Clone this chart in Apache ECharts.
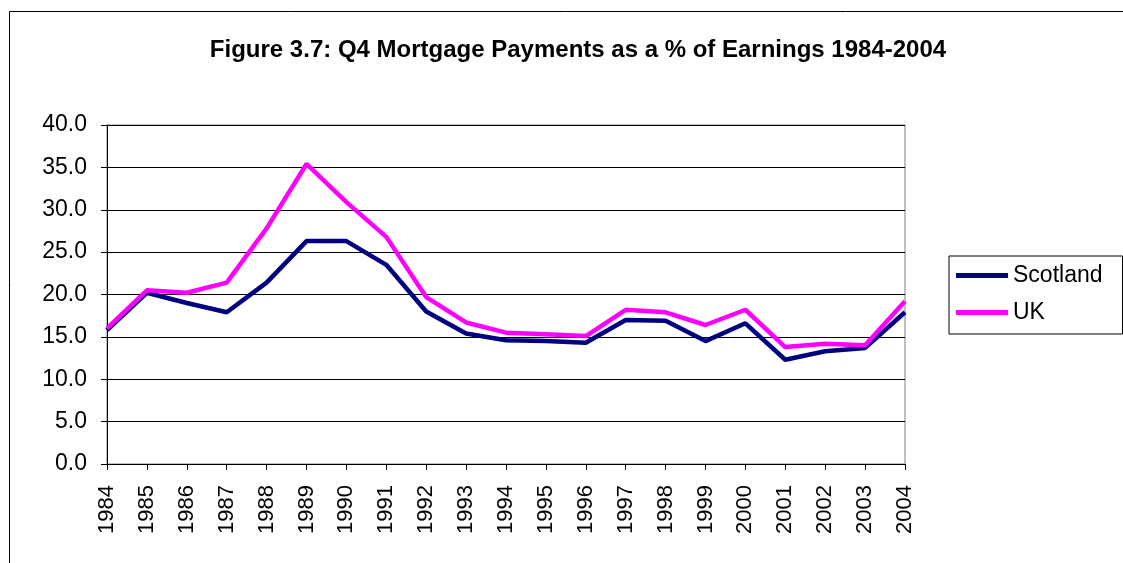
<!DOCTYPE html>
<html>
<head>
<meta charset="utf-8">
<script src="https://cdn.jsdelivr.net/npm/echarts@6/dist/echarts.min.js"></script>
<style>
  html, body { margin: 0; padding: 0; background: #fff; }
  #chart { width: 1123px; height: 563px; }
</style>
</head>
<body>
<div id="chart"></div>
<script>
const years = ['1984','1985','1986','1987','1988','1989','1990','1991','1992','1993','1994',
               '1995','1996','1997','1998','1999','2000','2001','2002','2003','2004'];
const scotland = [15.8, 20.2, 19.0, 17.9, 21.4, 26.3, 26.3, 23.5, 18.0, 15.4, 14.6,
                  14.5, 14.3, 17.0, 16.9, 14.5, 16.6, 12.3, 13.3, 13.7, 17.9];
const uk = [16.0, 20.5, 20.2, 21.4, 27.8, 35.4, 30.9, 26.8, 19.7, 16.7, 15.5,
            15.3, 15.1, 18.2, 17.9, 16.4, 18.2, 13.8, 14.2, 14.0, 19.2];

const chart = echarts.init(document.getElementById('chart'));
const font = 'Arial, "Liberation Sans", sans-serif';

chart.setOption({
  animation: false,
  textStyle: { fontFamily: font },
  graphic: [{
    type: 'rect',
    shape: { x: 9.5, y: 11.5, width: 1200, height: 700 },
    style: { fill: 'none', stroke: '#000', lineWidth: 1 },
    silent: true
  }],
  title: {
    text: 'Figure 3.7: Q4 Mortgage Payments as a % of Earnings 1984-2004',
    left: 573,
    textAlign: 'center',
    top: 33,
    textStyle: { fontFamily: font, fontSize: 24, fontWeight: 'bold', color: '#000' }
  },
  legend: {
    orient: 'vertical',
    left: 949,
    top: 256,
    data: ['Scotland', 'UK'],
    borderColor: '#000',
    borderWidth: 1,
    borderRadius: 0,
    padding: [8, 20, 10, 7],
    itemGap: 14,
    itemWidth: 52,
    itemHeight: 5,
    icon: 'rect',
    textStyle: { fontFamily: font, fontSize: 23, color: '#000' }
  },
  grid: {
    left: 107, right: 218, top: 125, bottom: 99,
    show: true, borderColor: '#808080', borderWidth: 1, backgroundColor: '#fff'
  },
  xAxis: {
    type: 'category',
    data: years,
    boundaryGap: false,
    axisLine: { lineStyle: { color: '#000', width: 1 } },
    axisTick: { show: true, alignWithLabel: true, length: 6, lineStyle: { color: '#000' } },
    axisLabel: { rotate: 90, fontSize: 22, color: '#000', margin: 21, interval: 0, fontFamily: font },
    splitLine: { show: false }
  },
  yAxis: {
    type: 'value',
    min: 0, max: 40, interval: 5,
    axisLine: { show: true, lineStyle: { color: '#000', width: 1 } },
    axisTick: { show: true, length: 6, lineStyle: { color: '#000' } },
    axisLabel: { fontSize: 23, color: '#000', margin: 20, fontFamily: font,
                 formatter: v => v.toFixed(1) },
    splitLine: { show: true, lineStyle: { color: '#000', width: 1 } }
  },
  series: [
    {
      name: 'Scotland', type: 'line', data: scotland,
      showSymbol: false, symbol: 'none',
      lineStyle: { color: '#000080', width: 4.5 },
      itemStyle: { color: '#000080' }
    },
    {
      name: 'UK', type: 'line', data: uk,
      showSymbol: false, symbol: 'none',
      lineStyle: { color: '#FF00FF', width: 4.5 },
      itemStyle: { color: '#FF00FF' }
    }
  ]
});
</script>
</body>
</html>
